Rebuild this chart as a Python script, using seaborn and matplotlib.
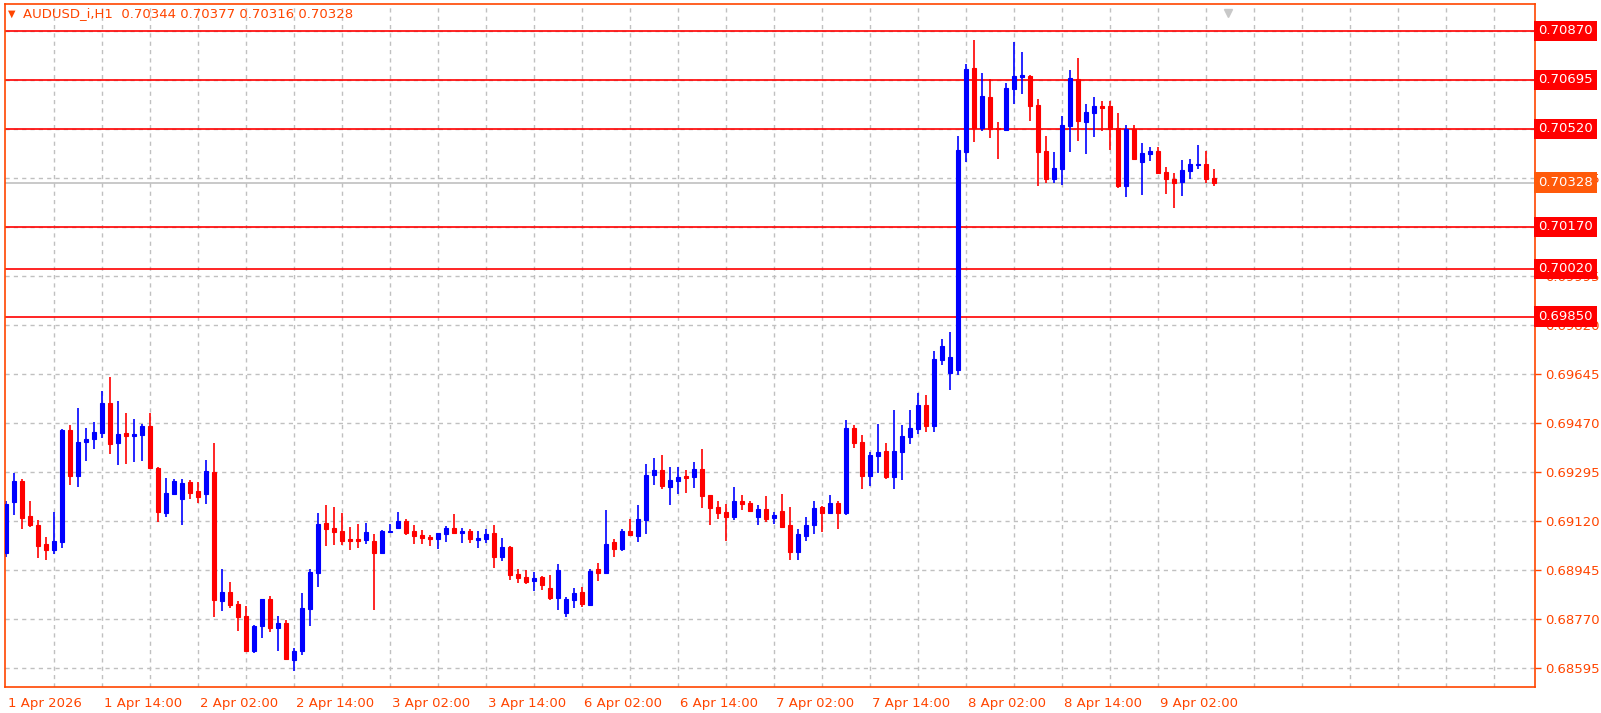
import numpy as np
import matplotlib
matplotlib.use("Agg")
import matplotlib.pyplot as plt
import matplotlib.transforms as mtransforms
import seaborn as sns

# hourly AUDUSD candles (prices in 1e-5 units)
opens = [69006, 69188, 69263, 69138, 69106, 69038, 69017, 69045, 69445, 69281,
         69402, 69413, 69435, 69542, 69399, 69435, 69424, 69427, 69460, 69310,
         69149, 69217, 69199, 69260, 69227, 69217, 69295, 68835, 68867, 68824,
         68781, 68656, 68745, 68842, 68738, 68756, 68624, 68656, 68806, 68935,
         69113, 69095, 69085, 69056, 69056, 69052, 69049, 69006, 69081, 69095,
         69120, 69085, 69070, 69063, 69056, 69074, 69095, 69077, 69085, 69052,
         69056, 69077, 68992, 69027, 68931, 68920, 68906, 68920, 68881, 68845,
         68792, 68838, 68867, 68820, 68949, 68935, 69045, 69020, 69085, 69067,
         69124, 69285, 69302, 69242, 69263, 69281, 69277, 69306, 69213, 69170,
         69152, 69135, 69192, 69185, 69135, 69163, 69131, 69156, 69106, 69010,
         69067, 69106, 69170, 69149, 69185, 69149, 69452, 69402, 69281, 69352,
         69370, 69277, 69367, 69420, 69449, 69535, 69460, 69695, 69649, 69660,
         70438, 70738, 70524, 70635, 70524, 70517, 70663, 70706, 70710, 70606,
         70442, 70342, 70377, 70531, 70699, 70545, 70577, 70602, 70602, 70524,
         70317, 70520, 70402, 70431, 70442, 70367, 70342, 70331, 70370, 70392,
         70395, 70344]
highs = [69192, 69292, 69270, 69192, 69124, 69063, 69152, 69449, 69463, 69524,
         69452, 69474, 69585, 69635, 69549, 69506, 69485, 69467, 69506, 69313,
         69274, 69270, 69270, 69267, 69260, 69338, 69399, 68949, 68902, 68835,
         68817, 68749, 68842, 68852, 68781, 68767, 68667, 68863, 68949, 69149,
         69177, 69170, 69149, 69099, 69110, 69113, 69074, 69088, 69110, 69152,
         69127, 69106, 69088, 69070, 69077, 69102, 69145, 69095, 69092, 69085,
         69092, 69106, 69060, 69031, 68949, 68945, 68938, 68924, 68927, 68967,
         68849, 68881, 68885, 68949, 68970, 69160, 69056, 69092, 69127, 69177,
         69324, 69345, 69356, 69313, 69313, 69302, 69331, 69377, 69213, 69192,
         69181, 69242, 69213, 69192, 69177, 69210, 69152, 69217, 69170, 69092,
         69135, 69192, 69174, 69213, 69192, 69481, 69463, 69427, 69367, 69467,
         69399, 69517, 69463, 69517, 69577, 69570, 69727, 69770, 69795, 70495,
         70752, 70838, 70720, 70699, 70545, 70685, 70831, 70795, 70713, 70627,
         70495, 70438, 70567, 70731, 70774, 70610, 70635, 70620, 70620, 70577,
         70535, 70535, 70470, 70456, 70456, 70385, 70363, 70410, 70413, 70463,
         70442, 70377]
lows = [68992, 69142, 69092, 69099, 68988, 68981, 69002, 69024, 69249, 69242,
        69335, 69377, 69417, 69360, 69320, 69324, 69331, 69335, 69306, 69117,
        69135, 69213, 69106, 69199, 69185, 69181, 68777, 68799, 68810, 68727,
        68652, 68649, 68702, 68724, 68656, 68624, 68585, 68642, 68745, 68885,
        69031, 69035, 69035, 69017, 69024, 69038, 68802, 69006, 69081, 69095,
        69070, 69038, 69038, 69031, 69020, 69045, 69074, 69042, 69042, 69024,
        69042, 68952, 68977, 68910, 68899, 68895, 68870, 68874, 68838, 68802,
        68777, 68810, 68813, 68820, 68906, 68935, 68992, 69013, 69067, 69045,
        69074, 69249, 69235, 69177, 69217, 69220, 69238, 69167, 69106, 69127,
        69049, 69124, 69160, 69156, 69106, 69117, 69110, 69095, 68981, 68981,
        69049, 69074, 69081, 69145, 69092, 69142, 69381, 69235, 69245, 69292,
        69270, 69235, 69267, 69395, 69431, 69438, 69438, 69677, 69588, 69642,
        70402, 70474, 70513, 70488, 70413, 70513, 70610, 70645, 70549, 70317,
        70327, 70327, 70320, 70438, 70477, 70431, 70492, 70513, 70445, 70310,
        70277, 70410, 70285, 70406, 70363, 70288, 70238, 70281, 70342, 70377,
        70327, 70316]
closes = [69181, 69263, 69131, 69106, 69031, 69017, 69049, 69445, 69281, 69402,
          69413, 69438, 69542, 69395, 69431, 69424, 69431, 69460, 69310, 69152,
          69220, 69263, 69256, 69220, 69206, 69299, 68838, 68867, 68820, 68777,
          68656, 68745, 68842, 68738, 68756, 68627, 68656, 68810, 68938, 69110,
          69092, 69081, 69049, 69049, 69049, 69081, 69006, 69085, 69085, 69120,
          69077, 69067, 69060, 69056, 69077, 69095, 69077, 69085, 69056, 69060,
          69074, 68992, 69027, 68927, 68917, 68902, 68917, 68892, 68845, 68945,
          68842, 68863, 68824, 68942, 68935, 69038, 69020, 69085, 69070, 69127,
          69285, 69302, 69245, 69267, 69277, 69274, 69306, 69210, 69167, 69149,
          69135, 69192, 69181, 69156, 69163, 69127, 69142, 69099, 69010, 69074,
          69106, 69167, 69149, 69185, 69149, 69452, 69399, 69281, 69356, 69367,
          69277, 69370, 69424, 69452, 69535, 69460, 69699, 69745, 69706, 70445,
          70735, 70524, 70638, 70520, 70520, 70667, 70710, 70713, 70602, 70438,
          70342, 70381, 70535, 70702, 70549, 70581, 70602, 70595, 70520, 70317,
          70520, 70413, 70435, 70442, 70363, 70342, 70327, 70374, 70395, 70395,
          70342, 70328]

time_labels = ["1 Apr 2026", "1 Apr 14:00", "2 Apr 02:00", "2 Apr 14:00",
               "3 Apr 02:00", "3 Apr 14:00", "6 Apr 02:00", "6 Apr 14:00",
               "7 Apr 02:00", "7 Apr 14:00", "8 Apr 02:00", "8 Apr 14:00",
               "9 Apr 02:00"]
levels = [0.70870, 0.70695, 0.70520, 0.70170, 0.70020, 0.69850]
last_price = 0.70328
grid_prices = [0.68595 + k * 0.00175 for k in range(14)]

o = np.array(opens) / 1e5
h = np.array(highs) / 1e5
l = np.array(lows) / 1e5
c = np.array(closes) / 1e5
x = np.arange(len(o))

sns.set_style("white")
plt.rcParams["font.family"] = ["DejaVu Sans"]
ORANGE = "#FF4500"
BLUE = "#0000FF"
RED = "#FF0000"

fig = plt.figure(figsize=(16.01, 7.13), dpi=100)
ax = fig.add_axes([5 / 1601, 26 / 713, 1530 / 1601, 683 / 713])
ax.set_xlim(-0.125, 191.125)
ax.set_ylim(0.685271, 0.709664)

# grid
for gp in grid_prices:
    ax.axhline(gp, color="#C0C0C0", lw=1, ls=(0, (3, 3)), zorder=0)
for gx in range(6, 191, 6):
    ax.axvline(gx, color="#C0C0C0", lw=1, ls=(0, (3, 3)), zorder=0)

# levels and current price
for lv in levels:
    ax.axhline(lv, color=RED, lw=1.2, zorder=1)
ax.axhline(last_price, color="#C0C0C0", lw=1.2, zorder=1)

# candles
up = c >= o
cols = np.where(up, BLUE, RED)
ax.vlines(x, l, h, colors=cols, lw=1.2, zorder=2)
ax.bar(x, np.abs(c - o), bottom=np.minimum(o, c), width=0.6,
       color=cols, edgecolor=cols, linewidth=0.8, zorder=3)

# axes styling
for s in ax.spines.values():
    s.set_color(ORANGE)
    s.set_linewidth(1.2)
ax.yaxis.tick_right()
ax.set_yticks(grid_prices)
# grid labels that sit exactly under a level box are hidden by it
ax.set_yticklabels(["" if any(abs(p - lv) < 1e-7 for lv in levels) else f"{p:.5f}"
                    for p in grid_prices])
ax.set_xticks(range(0, 12 * len(time_labels), 12))
ax.set_xticklabels(time_labels, ha="left")
ax.tick_params(axis="both", colors=ORANGE, labelcolor=ORANGE, labelsize=9.5,
               length=4, width=1, direction="out", pad=3)
offset = mtransforms.ScaledTranslation(2 / 100, 0, fig.dpi_scale_trans)
for lab in ax.get_xticklabels():
    lab.set_transform(lab.get_transform() + offset)

trans = mtransforms.blended_transform_factory(ax.transAxes, ax.transData)
for lv in levels:
    ax.text(1.0022, lv, f"{lv:.5f}", transform=trans, va="center", ha="left",
            color="white", fontsize=9.5, clip_on=False, zorder=10,
            bbox=dict(boxstyle="square,pad=0.3", fc=RED, ec="none"))
ax.text(1.0022, last_price, f"{last_price:.5f}", transform=trans, va="center",
        ha="left", color="white", fontsize=9.5, clip_on=False, zorder=10,
        bbox=dict(boxstyle="square,pad=0.3", fc="#FF5A0A", ec="none"))

# header
fig.text(8 / 1601, 1 - 14 / 713, "\u25bc", color=ORANGE, fontsize=7, va="center")
fig.text(23 / 1601, 1 - 14 / 713,
         "AUDUSD_i,H1  0.70344 0.70377 0.70316 0.70328",
         color=ORANGE, fontsize=9.5, va="center")
ax.plot([152.75], [0.70935], marker="v", color="#C8C8C8", ms=6, zorder=5,
        clip_on=False)

fig.savefig("out.png", dpi=100, facecolor="white")
